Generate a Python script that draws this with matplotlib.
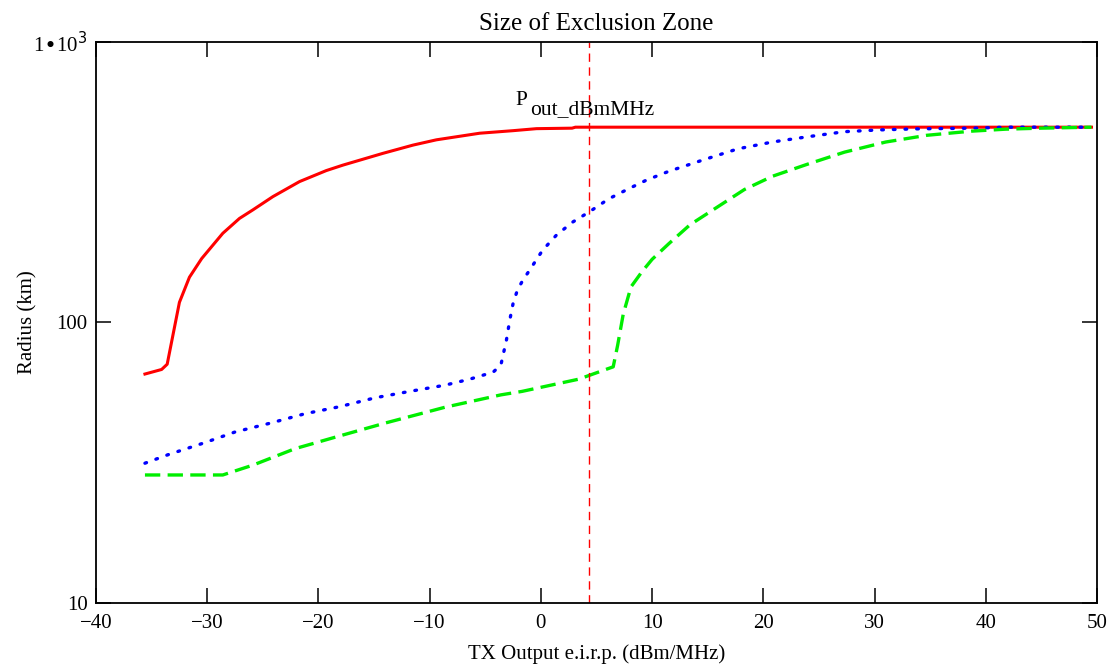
import matplotlib
matplotlib.use("Agg")
import matplotlib.pyplot as plt
from matplotlib.ticker import FixedLocator, NullLocator

plt.rcParams.update({
    "font.family": ["Liberation Serif", "DejaVu Serif"],
    "font.size": 15,
})

# exclusion zone radius (km) vs TX output e.i.r.p. (dBm/MHz)
red_x = [-35.6, -34.1, -33.6, -32.5, -31.6, -30.5, -28.6, -27.1, -25.9, -24.1,
         -21.7, -19.3, -17.8, -14.2, -11.5, -9.4, -5.5, -2.5, -0.4, 2.8, 3.1, 49.5]
red_y = [65.5, 68, 71, 118, 145, 169, 208, 235, 252, 281,
         318, 348, 364, 401, 429, 448, 473, 483, 491, 493, 497, 497]

blue_x = [-35.6, -33.5, -30.3, -27.5, -24.3, -21.2, -18.1, -14.9, -11.8, -8.6,
          -6.4, -4.3, -3.6, -3.1, -2.8, -2.5, -2.1, -1.6, -1.0, 0.15, 1.4,
          2.85, 4.35, 6.1, 7.9, 9.5, 11.5, 14.6, 17.7, 20.8, 23.9, 27.3,
          30.4, 33.5, 38.7, 42.0, 49.5]
blue_y = [31.5, 33.8, 37.2, 40.7, 43.8, 47.3, 50.1, 53.9, 56.8, 59.8,
          62.8, 66.5, 70.5, 86.6, 102, 117, 131, 142, 154, 181, 205,
          228, 248, 276, 300, 322, 346, 380, 416, 440, 459, 479,
          486, 490, 493, 497, 497]

green_x = [-35.6, -28.6, -27.8, -25.9, -22.1, -18.1, -14.0, -8.6, -3.6, -1.7,
           3.4, 6.5, 6.9, 7.4, 8.1, 9.1, 10.0, 11.5, 13.4, 15.6, 18.3, 20.8,
           23.9, 27.3, 31.0, 34.7, 38.7, 41.8, 44.9, 49.5]
green_y = [28.6, 28.6, 29.3, 31.0, 35.5, 39.4, 43.8, 49.9, 55.2, 56.8,
           62.8, 69.5, 83, 107, 134, 152, 168, 191, 223, 254, 298, 332,
           366, 405, 440, 465, 481, 489, 493, 497]

p_out = 4.35
x_ticks = [-40, -30, -20, -10, 0, 10, 20, 30, 40, 50]
y_ticks = [10, 100, 1000]
y_ticklabels = ["10", "100", r"1$\bullet$10$^3$"]

fig = plt.figure(figsize=(11.15, 6.67), dpi=100)
ax = fig.add_axes([0.0861, 0.096, 0.8978, 0.841])

ax.plot(red_x, red_y, color="red", lw=2.2, solid_joinstyle="round")
ax.plot(blue_x, blue_y, color="blue", lw=2.4, ls=(0, (0.5, 3.0)),
        dash_capstyle="round")
ax.plot(green_x, green_y, color="#00ee00", lw=2.4, ls=(0, (4.6, 2.2)))
ax.axvline(p_out, color="#ff0000", lw=1.0, ls=(0, (6, 4)))

ax.text(-2.3, 620, "P", fontsize=15.5, ha="left", va="center")
ax.text(-1.0, 575, "out_dBmMHz", fontsize=15.5, ha="left", va="center")

ax.set_yscale("log")
ax.set_xlim(-40, 50)
ax.set_ylim(10, 1000)
ax.xaxis.set_major_locator(FixedLocator(x_ticks))
ax.set_xticklabels([f"{t}".replace("-", "\u2212") for t in x_ticks])
ax.yaxis.set_major_locator(FixedLocator(y_ticks))
ax.set_yticklabels(y_ticklabels)
ax.yaxis.set_minor_locator(NullLocator())
ax.tick_params(direction="in", length=11, width=1.1, top=True, right=True,
               labelsize=15)
ax.tick_params(axis="x", pad=8)
ax.tick_params(axis="y", pad=6)
for s in ax.spines.values():
    s.set_linewidth(1.3)

ax.set_title("Size of Exclusion Zone", fontsize=18, pad=9)
ax.set_xlabel("TX Output e.i.r.p. (dBm/MHz)", fontsize=15)
ax.set_ylabel("Radius (km)", fontsize=15)
ax.xaxis.set_label_coords(0.5, -0.074)
ax.yaxis.set_label_coords(-0.058, 0.5)

fig.savefig("out.png", dpi=100)
